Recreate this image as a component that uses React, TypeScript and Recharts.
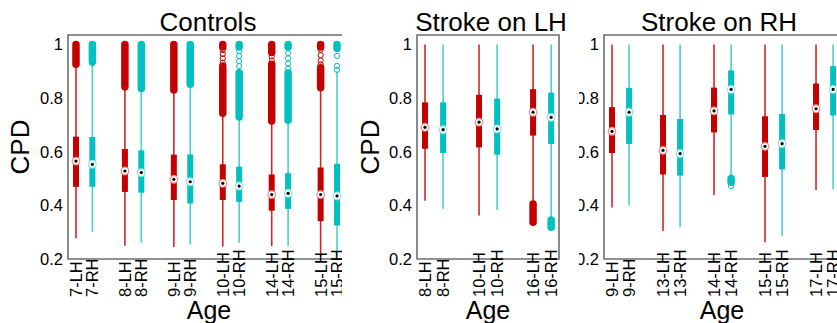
import React from "react";
import {
  ComposedChart,
  Scatter,
  XAxis,
  YAxis,
  ReferenceLine,
  ReferenceArea,
} from "recharts";

const FONT = '"Liberation Sans", Arial, Helvetica, sans-serif';

// five-number summaries per box: [whiskerLow, q1, median, q3, whiskerHigh]
const controlsAges = ["7", "8", "9", "10", "14", "15"];
const controlsLH = [
  [0.277, 0.469, 0.565, 0.656, 0.926],
  [0.249, 0.45, 0.528, 0.61, 0.842],
  [0.245, 0.42, 0.497, 0.589, 0.83],
  [0.246, 0.42, 0.482, 0.553, 0.743],
  [0.248, 0.38, 0.44, 0.515, 0.714],
  [0.21, 0.341, 0.44, 0.541, 0.838],
];
const controlsRH = [
  [0.301, 0.469, 0.553, 0.655, 0.922],
  [0.261, 0.447, 0.522, 0.605, 0.836],
  [0.254, 0.407, 0.488, 0.59, 0.851],
  [0.26, 0.413, 0.472, 0.544, 0.729],
  [0.247, 0.387, 0.445, 0.52, 0.717],
  [0.21, 0.325, 0.435, 0.555, 0.9],
];
// dense outlier runs [from, to]
const controlsLHRuns = [
  [[0.926, 1]],
  [[0.842, 1]],
  [[0.83, 1]],
  [[0.743, 0.919], [0.99, 1]],
  [[0.714, 0.926], [0.97, 1]],
  [[0.838, 0.913], [0.99, 1]],
];
const controlsRHRuns = [
  [[0.935, 1]],
  [[0.836, 1]],
  [[0.851, 1]],
  [[0.729, 0.894], [0.99, 1]],
  [[0.717, 0.894], [0.99, 1]],
  [[0.985, 1]],
];
// scattered outliers
const controlsLHOut = [[], [], [], [0.979, 0.964, 0.948, 0.932], [0.955, 0.94], [0.98, 0.96, 0.94, 0.925]];
const controlsRHOut = [[0.93, 0.95, 0.97], [], [], [0.975, 0.957, 0.938, 0.919], [0.967, 0.948, 0.929, 0.91], [0.957, 0.92, 0.905]];

const strokeLAges = ["8", "10", "16"];
const strokeLLH = [
  [0.417, 0.611, 0.691, 0.784, 1.0],
  [0.362, 0.616, 0.71, 0.812, 1.0],
  [0.405, 0.66, 0.747, 0.833, 1.0],
];
const strokeLRH = [
  [0.387, 0.595, 0.682, 0.784, 1.0],
  [0.383, 0.589, 0.685, 0.798, 1.0],
  [0.345, 0.629, 0.728, 0.82, 1.0],
];
const strokeLLHRuns = [[], [], [[0.337, 0.405]]];
const strokeLRHRuns = [[], [], [[0.318, 0.345]]];

const strokeRAges = ["9", "13", "14", "15", "17"];
const strokeRLH = [
  [0.392, 0.595, 0.676, 0.766, 1.0],
  [0.304, 0.515, 0.605, 0.737, 1.0],
  [0.439, 0.672, 0.752, 0.839, 1.0],
  [0.262, 0.506, 0.62, 0.732, 1.0],
  [0.457, 0.681, 0.76, 0.854, 1.0],
];
const strokeRRH = [
  [0.399, 0.629, 0.747, 0.838, 1.0],
  [0.318, 0.511, 0.593, 0.722, 1.0],
  [0.508, 0.739, 0.832, 0.903, 1.0],
  [0.287, 0.534, 0.63, 0.741, 1.0],
  [0.46, 0.735, 0.832, 0.919, 1.0],
];
const strokeRRHRuns = [[], [], [[0.486, 0.5]], [], []];
const strokeRRHOut = [[], [], [0.472], [], []];

const yTicks = [0.2, 0.4, 0.6, 0.8, 1];
const Y_DOMAIN = [0.2, 1.035];

const COLORS = {
  LH: { box: "#c40000", whisker: "#d02828", ring: "#f09090" },
  RH: { box: "#00c0c0", whisker: "#48d0d0", ring: "#90e8e8" },
};

interface Box {
  pos: number;
  label: string;
  side: "LH" | "RH";
  stats: number[];
  runs: number[][];
  out: number[];
}

function buildBoxes(
  ages: string[],
  lh: number[][],
  rh: number[][],
  lhRuns: number[][][],
  rhRuns: number[][][],
  lhOut: number[][],
  rhOut: number[][],
  gap: number
): Box[] {
  const boxes: Box[] = [];
  ages.forEach((age, i) => {
    boxes.push({ pos: i, label: `${age}-LH`, side: "LH", stats: lh[i], runs: lhRuns[i] ?? [], out: lhOut[i] ?? [] });
    boxes.push({ pos: i + gap, label: `${age}-RH`, side: "RH", stats: rh[i], runs: rhRuns[i] ?? [], out: rhOut[i] ?? [] });
  });
  return boxes;
}

const MedianDot = (props: any) => {
  const { cx, cy, payload } = props;
  const c = COLORS[payload.side as "LH" | "RH"];
  return (
    <g>
      <circle cx={cx} cy={cy} r={3.8} fill="#fff" stroke={c.ring} strokeWidth={1.3} />
      <circle cx={cx} cy={cy} r={1.6} fill="#000" />
    </g>
  );
};

const OutlierDot = (props: any) => {
  const { cx, cy, payload } = props;
  return <circle cx={cx} cy={cy} r={2.6} fill="none" stroke={COLORS[payload.side as "LH" | "RH"].box} strokeWidth={1} />;
};

interface PanelProps {
  boxes: Box[];
  width: number;
  axisWidth: number;
  rightMargin: number;
  xDomain: number[];
  cpdX?: number;
  rightTicks?: boolean;
}

function Panel({ boxes, width, axisWidth, rightMargin, xDomain, cpdX, rightTicks }: PanelProps) {
  const medians = boxes.map((b) => ({ x: b.pos, y: b.stats[2], side: b.side }));
  const outliers = boxes.flatMap((b) => b.out.map((v) => ({ x: b.pos, y: v, side: b.side })));
  const ticks = boxes.map((b) => b.pos);
  const labels = boxes.map((b) => b.label);

  // labels are bottom-aligned: they start low and run upward, long ones reach into the plot
  const XTick = (p: any) => {
    const { x, y, index } = p;
    const ty = y + 38;
    return (
      <text
        x={x}
        y={ty}
        transform={`rotate(-90, ${x}, ${ty})`}
        textAnchor="start"
        dy="0.36em"
        fontSize={16.5}
        fontFamily={FONT}
        fill="#000"
      >
        {labels[index]}
      </text>
    );
  };

  return (
    <ComposedChart
      width={width}
      height={323}
      margin={{ top: 35, right: rightMargin, bottom: 0, left: 0 }}
      style={{ background: "#fff" }}
    >
      <XAxis
        type="number"
        dataKey="x"
        domain={xDomain}
        allowDataOverflow
        ticks={ticks}
        interval={0}
        tick={<XTick />}
        tickLine={false}
        tickSize={0}
        tickMargin={0}
        axisLine={false}
        height={64}
        label={{ value: "Age", position: "insideBottom", offset: 4, fontSize: 25, fill: "#000", fontFamily: FONT }}
      />
      <YAxis
        type="number"
        dataKey="y"
        domain={Y_DOMAIN}
        allowDataOverflow
        ticks={yTicks}
        interval={0}
        width={axisWidth}
        tickLine={false}
        tickSize={3}
        tickMargin={2}
        axisLine={false}
        tick={{ fontSize: 16.5, fill: "#000", fontFamily: FONT }}
        label={
          cpdX === undefined
            ? undefined
            : {
                value: "CPD",
                content: (lp: any) => {
                  const vb = lp.viewBox;
                  const lx = vb.x + cpdX;
                  const ly = vb.y + vb.height / 2;
                  return (
                    <text
                      x={lx}
                      y={ly}
                      transform={`rotate(-90, ${lx}, ${ly})`}
                      textAnchor="middle"
                      dy="0.36em"
                      fontSize={26}
                      fontFamily={FONT}
                      fill="#000"
                    >
                      CPD
                    </text>
                  );
                },
              }
        }
      />
      <YAxis
        yAxisId="inner"
        type="number"
        domain={Y_DOMAIN}
        allowDataOverflow
        ticks={yTicks}
        orientation="left"
        mirror
        width={0}
        axisLine={false}
        tickSize={3}
        tickFormatter={() => ""}
        tickLine={{ stroke: "#555" }}
      />
      {rightTicks && (
        <YAxis
          yAxisId="right"
          type="number"
          domain={Y_DOMAIN}
          allowDataOverflow
          ticks={yTicks}
          orientation="right"
          mirror
          width={0}
          axisLine={false}
          tickSize={3}
          tickFormatter={() => ""}
          tickLine={{ stroke: "#555" }}
        />
      )}
      <ReferenceArea
        x1={xDomain[0]}
        x2={xDomain[1]}
        y1={Y_DOMAIN[0]}
        y2={Y_DOMAIN[1]}
        fill="none"
        fillOpacity={0}
        stroke="#6e6e6e"
        strokeWidth={1.6}
        ifOverflow="visible"
      />
      {boxes.map((b) => (
        <ReferenceLine
          key={`w-${b.label}`}
          segment={[{ x: b.pos, y: b.stats[0] }, { x: b.pos, y: b.stats[4] }]}
          stroke={COLORS[b.side].whisker}
          strokeWidth={1.6}
          ifOverflow="visible"
        />
      ))}
      {boxes.flatMap((b) =>
        b.runs.map((r, j) => (
          <ReferenceLine
            key={`r-${b.label}-${j}`}
            segment={[{ x: b.pos, y: r[0] }, { x: b.pos, y: r[1] }]}
            stroke={COLORS[b.side].box}
            strokeWidth={7.5}
            strokeLinecap="round"
            ifOverflow="visible"
          />
        ))
      )}
      {boxes.map((b) => (
        <ReferenceLine
          key={`b-${b.label}`}
          segment={[{ x: b.pos, y: b.stats[1] }, { x: b.pos, y: b.stats[3] }]}
          stroke={COLORS[b.side].box}
          strokeWidth={6}
          ifOverflow="visible"
        />
      ))}
      <Scatter data={outliers} shape={<OutlierDot />} isAnimationActive={false} />
      <Scatter data={medians} shape={<MedianDot />} isAnimationActive={false} />
    </ComposedChart>
  );
}

const titleStyle = (centerX: number): React.CSSProperties => ({
  position: "absolute",
  top: 9,
  left: centerX - 100,
  width: 200,
  textAlign: "center",
  fontFamily: FONT,
  fontSize: 26,
  lineHeight: "26px",
  color: "#000",
});

export default function App() {
  const gap = 0.335;
  const controls = buildBoxes(controlsAges, controlsLH, controlsRH, controlsLHRuns, controlsRHRuns, controlsLHOut, controlsRHOut, gap);
  const strokeL = buildBoxes(strokeLAges, strokeLLH, strokeLRH, strokeLLHRuns, strokeLRHRuns, [], [], gap);
  const strokeR = buildBoxes(strokeRAges, strokeRLH, strokeRRH, [], strokeRRHRuns, [], strokeRRHOut, gap);

  return (
    <div
      style={{
        position: "fixed",
        left: 0,
        top: 0,
        width: 837,
        height: 323,
        overflow: "hidden",
        background: "#fff",
      }}
    >
      <div style={{ position: "absolute", left: 0, top: 0, zIndex: 1 }}>
        <Panel boxes={controls} width={350} axisWidth={68} rightMargin={0} xDomain={[-0.163, 5.6]} cpdX={20} />
        <div style={titleStyle(208)}>Controls</div>
      </div>
      <div style={{ position: "absolute", left: 560, top: 0, zIndex: 2 }}>
        <Panel boxes={strokeR} width={280} axisWidth={44} rightMargin={0} xDomain={[-0.157, 4.47]} />
        <div style={titleStyle(159)}>Stroke on RH</div>
      </div>
      <div style={{ position: "absolute", left: 342, top: 0, zIndex: 3, width: 237, overflow: "hidden", background: "#fff" }}>
        <Panel boxes={strokeL} width={237} axisWidth={75} rightMargin={20} xDomain={[-0.148, 2.48]} cpdX={28} rightTicks />
        <div style={titleStyle(149)}>Stroke on LH</div>
      </div>
    </div>
  );
}
